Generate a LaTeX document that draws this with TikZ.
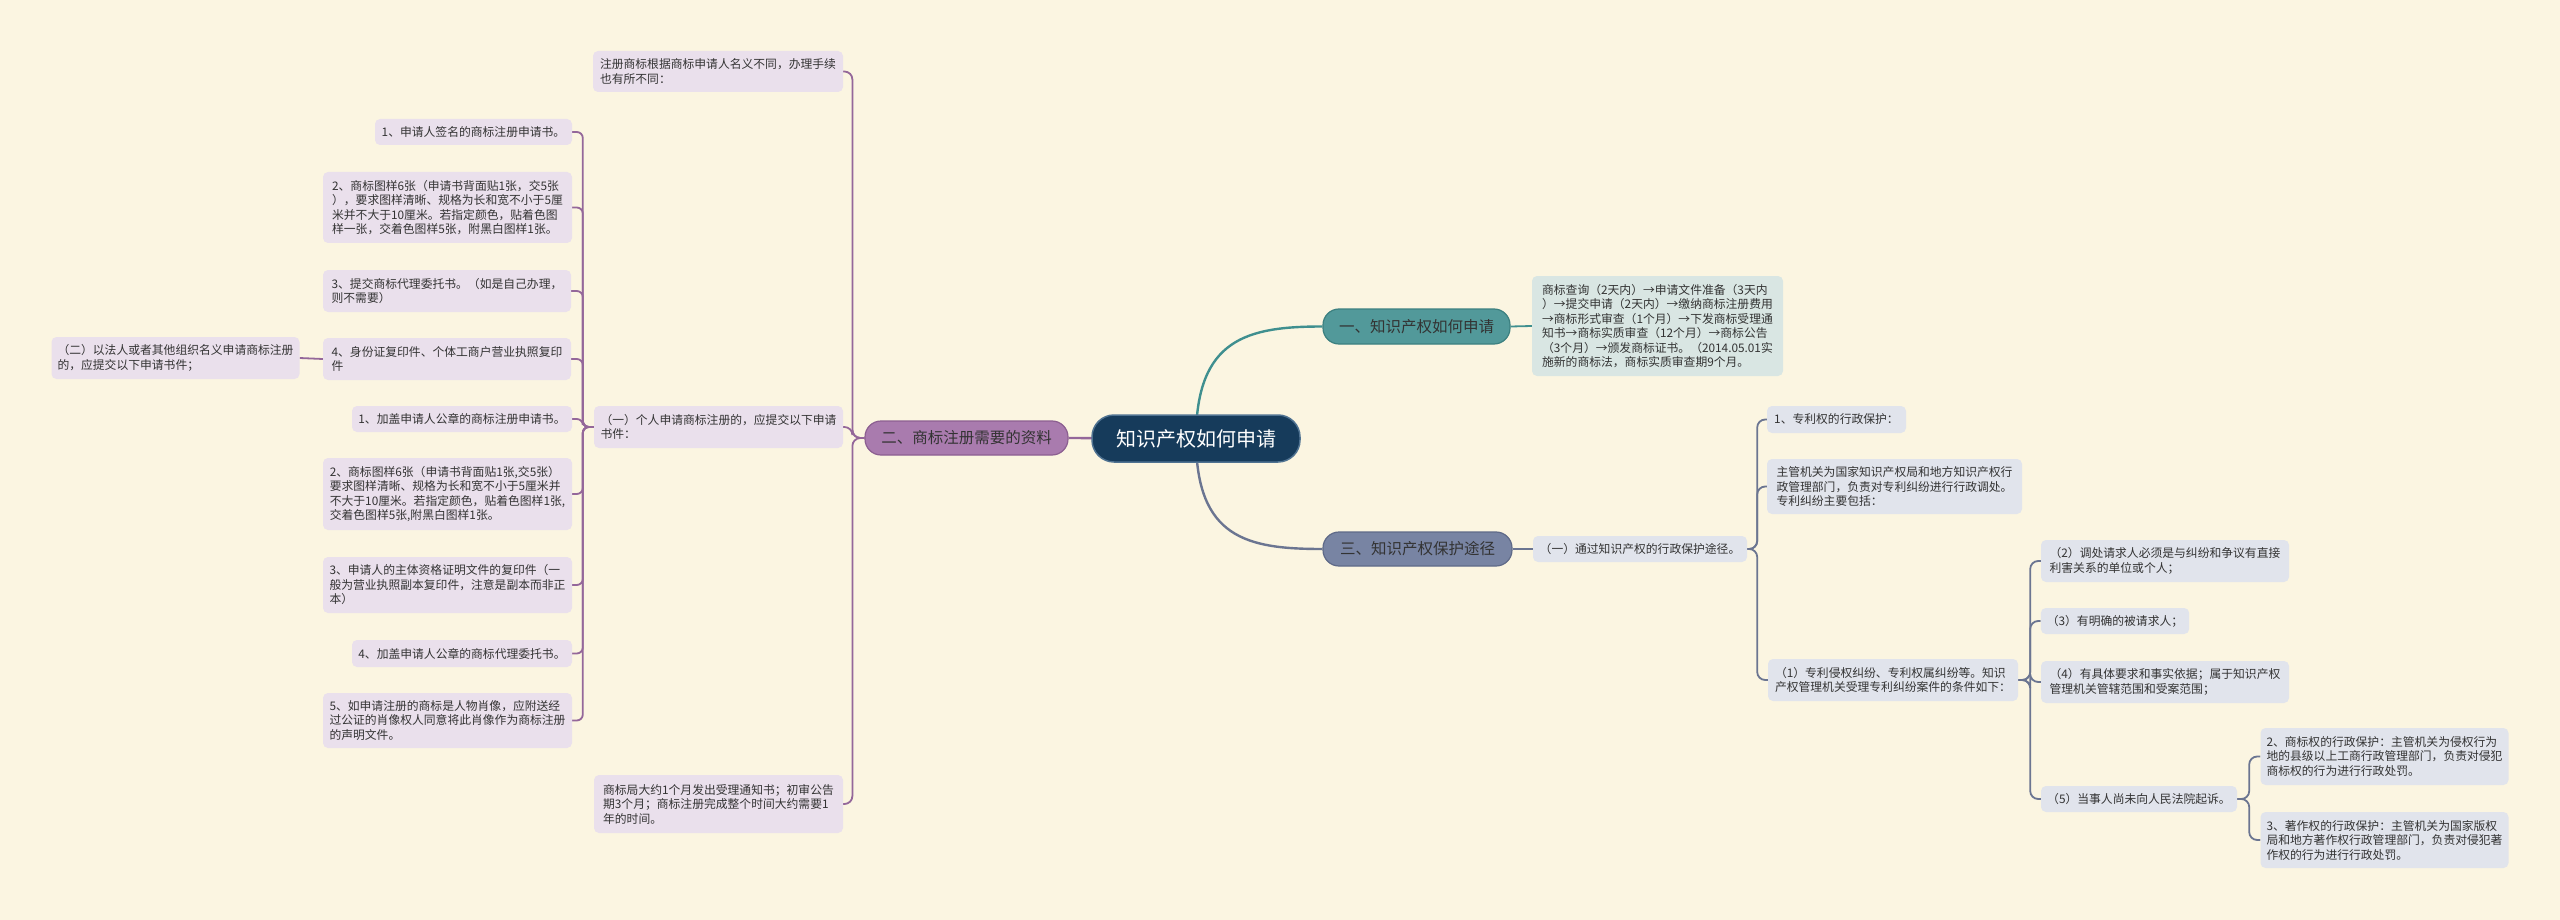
\documentclass[tikz,border=0pt]{standalone}
\usepackage{fontspec}
\newfontfamily\cjk{Noto Sans CJK SC}
\pgfdeclarelayer{back}
\pgfdeclarelayer{lines}
\pgfsetlayers{back,lines,main}
\definecolor{bgc}{HTML}{FBF5E1}
\definecolor{txt}{HTML}{333333}
\definecolor{rootfill}{HTML}{163B5B}
\definecolor{rootdraw}{HTML}{4F7291}
\definecolor{tealL}{HTML}{3F8F8F}
\definecolor{tealF}{HTML}{52999A}
\definecolor{tealD}{HTML}{3C8080}
\definecolor{tealLeaf}{HTML}{D9E6E3}
\definecolor{purL}{HTML}{94679A}
\definecolor{purF}{HTML}{A97BAE}
\definecolor{purD}{HTML}{8C5F91}
\definecolor{purLeaf}{HTML}{EAE0EC}
\definecolor{slaL}{HTML}{6B7591}
\definecolor{slaF}{HTML}{7884A3}
\definecolor{slaD}{HTML}{5F6A88}
\definecolor{slaLeaf}{HTML}{E1E4EC}
\begin{document}
\begin{tikzpicture}[x=1pt,y=-1pt,
  leaf/.style={rounded corners=5, align=left, inner xsep=6, inner ysep=3, text=txt,
    font=\cjk\fontsize{11.8}{14.5}\selectfont, anchor=center},
  pleaf/.style={leaf, fill=purLeaf},
  tleaf/.style={leaf, fill=tealLeaf},
  sleaf/.style={leaf, fill=slaLeaf},
  branch/.style={rounded corners=16, line width=1.2, inner sep=0, anchor=center,
    font=\cjk\fontsize{15.5}{18}\selectfont},
  rootbox/.style={rounded corners=22, fill=rootfill, draw=rootdraw, line width=1.5, text=white,
    inner sep=0, anchor=center, font=\cjk\fontsize{20}{24}\selectfont},
  mainline/.style={line width=2.4},
  pline/.style={draw=purL, line width=1.8, rounded corners=8},
  sline/.style={draw=slaL, line width=1.8, rounded corners=8},
  tline/.style={draw=tealL, line width=1.8}
]
\begin{pgfonlayer}{back}
\fill[bgc] (0,0) rectangle (2560,920);
\end{pgfonlayer}
\useasboundingbox (0,0) rectangle (2560,920);

% root and branches
\node[rootbox, minimum width=208, minimum height=47] (root) at (1196,438.5) {知识产权如何申请};
\node[branch, fill=tealF, draw=tealD, text=black!80, minimum width=187, minimum height=35] (bA) at (1416.5,326.5) {一、知识产权如何申请};
\node[branch, fill=purF, draw=purD, text=black!80, minimum width=203, minimum height=34] (bB) at (966.5,438) {二、商标注册需要的资料};
\node[branch, fill=slaF, draw=slaD, text=black!80, minimum width=189, minimum height=34] (bC) at (1417.5,549) {三、知识产权保护途径};

% branch one
\node[tleaf, minimum width=251, minimum height=100] (tn) at (1657.5,326) {商标查询（2天内）→申请文件准备（3天内\\）→提交申请（2天内）→缴纳商标注册费用\\→商标形式审查（1个月）→下发商标受理通\\知书→商标实质审查（12个月）→商标公告\\（3个月）→颁发商标证书。（2014.05.01实\\施新的商标法，商标实质审查期9个月。};

% branch two
\node[pleaf, minimum width=250, minimum height=41] (pn1) at (718,71.5) {注册商标根据商标申请人名义不同，办理手续\\也有所不同：};
\node[pleaf, minimum width=249, minimum height=42] (pone) at (718.5,427) {（一）个人申请商标注册的，应提交以下申请\\书件：};
\node[pleaf, minimum width=249, minimum height=58] (pn2) at (718.5,804) {商标局大约1个月发出受理通知书；初审公告\\期3个月；商标注册完成整个时间大约需要1\\年的时间。};

\node[pleaf, minimum width=197, minimum height=26] (a1) at (473.5,132) {1、申请人签名的商标注册申请书。};
\node[pleaf, minimum width=249, minimum height=71] (a2) at (447.5,207.5) {2、商标图样6张（申请书背面贴1张，交5张\\），要求图样清晰、规格为长和宽不小于5厘\\米并不大于10厘米。若指定颜色，贴着色图\\样一张，交着色图样5张，附黑白图样1张。};
\node[pleaf, minimum width=248, minimum height=42] (a3) at (447,291) {3、提交商标代理委托书。（如是自己办理，\\则不需要）};
\node[pleaf, minimum width=248, minimum height=42] (a4) at (447,359) {4、身份证复印件、个体工商户营业执照复印\\件};
\node[pleaf, minimum width=247, minimum height=42] (two) at (175.5,358) {（二）以法人或者其他组织名义申请商标注册\\的，应提交以下申请书件；};
\node[pleaf, minimum width=220, minimum height=26] (b1) at (462,419) {1、加盖申请人公章的商标注册申请书。};
\node[pleaf, minimum width=249, minimum height=72] (b2) at (447.5,494) {2、商标图样6张（申请书背面贴1张,交5张）\\要求图样清晰、规格为长和宽不小于5厘米并\\不大于10厘米。若指定颜色，贴着色图样1张,\\交着色图样5张,附黑白图样1张。};
\node[pleaf, minimum width=249, minimum height=56] (b3) at (447.5,585) {3、申请人的主体资格证明文件的复印件（一\\般为营业执照副本复印件，注意是副本而非正\\本）};
\node[pleaf, minimum width=220, minimum height=27] (b4) at (462,653.5) {4、加盖申请人公章的商标代理委托书。};
\node[pleaf, minimum width=249, minimum height=55] (b5) at (447.5,720.5) {5、如申请注册的商标是人物肖像，应附送经\\过公证的肖像权人同意将此肖像作为商标注册\\的声明文件。};

% branch three
\node[sleaf, minimum width=214, minimum height=26] (sone) at (1640,549) {（一）通过知识产权的行政保护途径。};
\node[sleaf, minimum width=139, minimum height=27] (sp1) at (1836.5,419.5) {1、专利权的行政保护：};
\node[sleaf, minimum width=255, minimum height=55] (sp2) at (1894.5,486.5) {主管机关为国家知识产权局和地方知识产权行\\政管理部门，负责对专利纠纷进行行政调处。\\专利纠纷主要包括：};
\node[sleaf, minimum width=250, minimum height=42] (s1) at (1893,680) {（1）专利侵权纠纷、专利权属纠纷等。知识\\产权管理机关受理专利纠纷案件的条件如下：};
\node[sleaf, minimum width=248, minimum height=42] (s2) at (2165,561) {（2）调处请求人必须是与纠纷和争议有直接\\利害关系的单位或个人；};
\node[sleaf, minimum width=148, minimum height=26] (s3) at (2115,621) {（3）有明确的被请求人；};
\node[sleaf, minimum width=248, minimum height=42] (s4) at (2165,682) {（4）有具体要求和事实依据；属于知识产权\\管理机关管辖范围和受案范围；};
\node[sleaf, minimum width=196, minimum height=26] (s5) at (2139,799) {（5）当事人尚未向人民法院起诉。};
\node[sleaf, minimum width=247, minimum height=57] (st2) at (2384.5,756.5) {2、商标权的行政保护：主管机关为侵权行为\\地的县级以上工商行政管理部门，负责对侵犯\\商标权的行为进行行政处罚。};
\node[sleaf, minimum width=247, minimum height=56] (st3) at (2384.5,840) {3、著作权的行政保护：主管机关为国家版权\\局和地方著作权行政管理部门，负责对侵犯著\\作权的行为进行行政处罚。};

\begin{pgfonlayer}{lines}
% root connectors
\draw[tealL, mainline] (root.center) .. controls +(0,-100) and +(-75,0) .. (bA.west);
\draw[slaL, mainline] (root.center) .. controls +(0,100) and +(-75,0) .. (bC.west);
\draw[purL, mainline] (root.center) -- (bB.east);
% teal
\draw[tline] (bA.east) -- (tn.west);
% purple
\draw[pline] (bB.west) -- ++(-12,0) |- (pn1.east);
\draw[pline] (bB.west) -- ++(-12,0) |- (pone.east);
\draw[pline] (bB.west) -- ++(-12,0) |- (pn2.east);
\foreach \c in {a1,a2,a3,a4,b1,b2,b3,b4,b5}
  \draw[pline, rounded corners=6] (pone.west) -- ++(-11,0) |- (\c.east);
\draw[pline] (a4.west) -- (two.east);
% slate
\draw[sline] (bC.east) -- (sone.west);
\foreach \c in {sp1,sp2,s1}
  \draw[sline] (sone.east) -- ++(10,0) |- (\c.west);
\foreach \c in {s2,s3,s4,s5}
  \draw[sline] (s1.east) -- ++(12,0) |- (\c.west);
\foreach \c in {st2,st3}
  \draw[sline] (s5.east) -- ++(12,0) |- (\c.west);
\end{pgfonlayer}
\end{tikzpicture}
\end{document}
